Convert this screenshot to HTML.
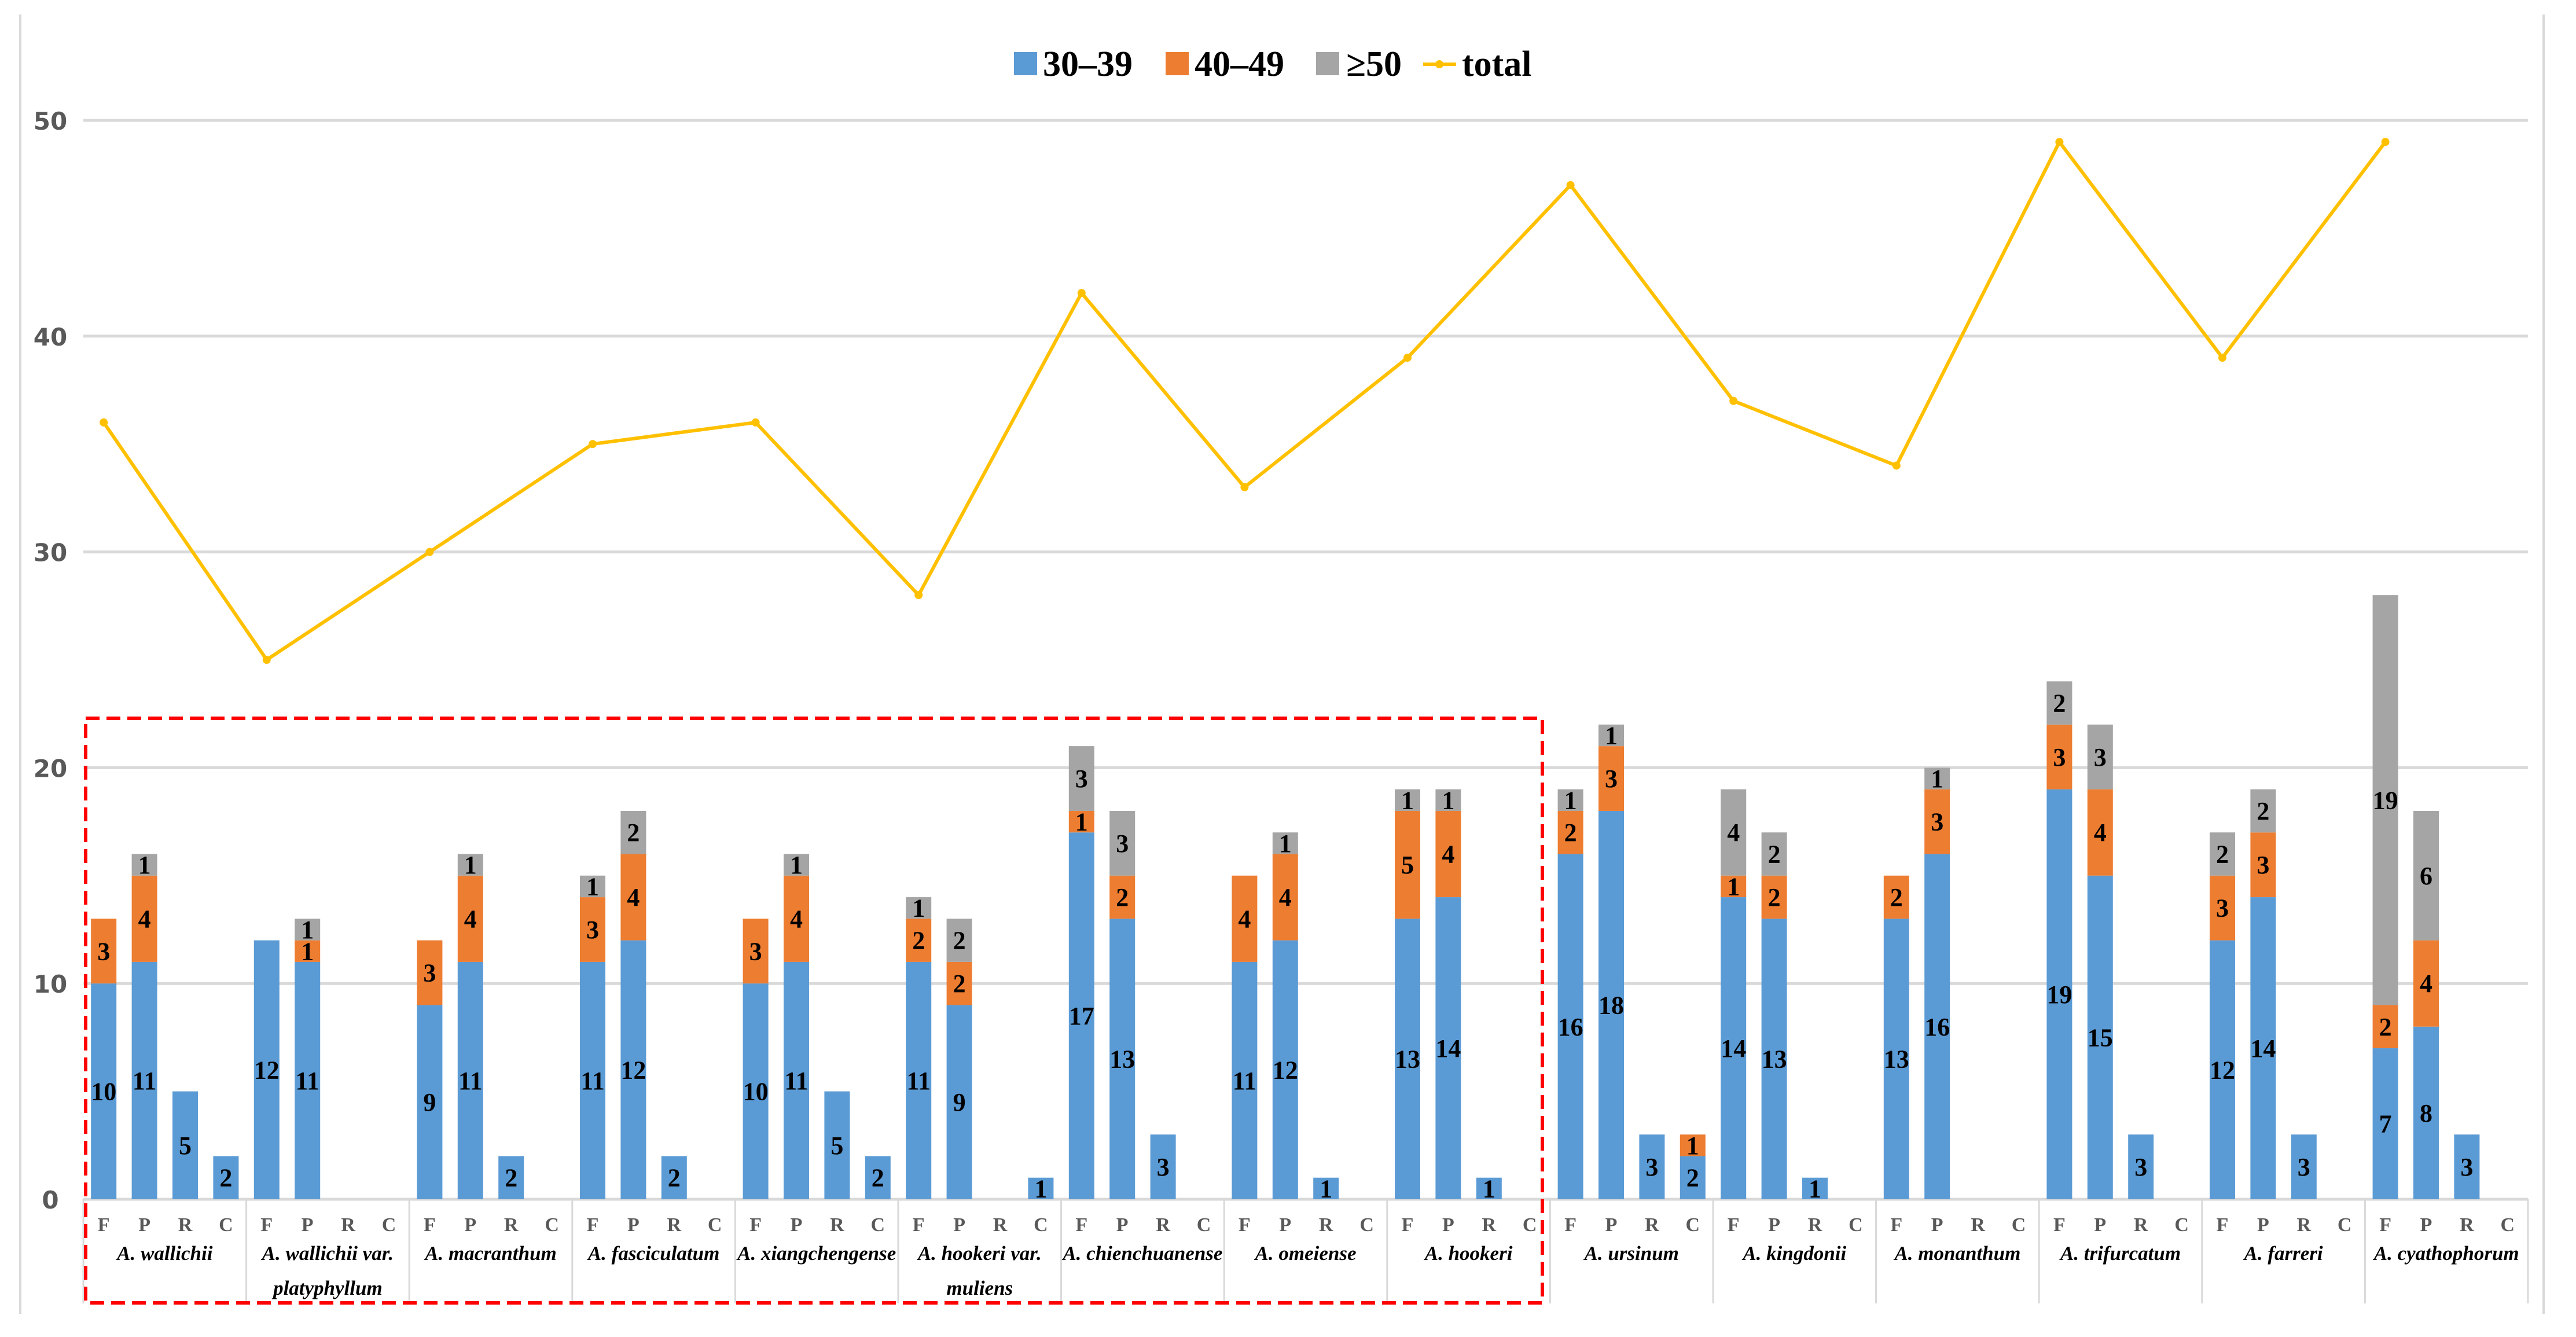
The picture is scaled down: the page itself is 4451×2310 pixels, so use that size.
<!DOCTYPE html>
<html><head><meta charset="utf-8"><style>
html,body{margin:0;padding:0;background:#fff}
svg{display:block}
</style></head><body>
<svg id="chart" width="4451" height="2310" viewBox="0 0 4451 2310" xmlns="http://www.w3.org/2000/svg">
  <rect x="0" y="0" width="4451" height="2310" fill="#fff"/>
  <line x1="35" y1="25" x2="35" y2="2270" stroke="#d9d9d9" stroke-width="4"/>
  <line x1="4395" y1="25" x2="4395" y2="2270" stroke="#d9d9d9" stroke-width="4"/>
  <g id="grid"></g>
  <g id="yaxis"></g>
  <g id="bars"></g>
  <g id="xaxis"></g>
  <g id="line"></g>
  <rect x="148" y="1241" width="2517" height="1010" fill="none" stroke="#ff0000" stroke-width="6" stroke-dasharray="24,12"/>
  <g font-family="Liberation Serif, serif" font-weight="bold" font-size="62" fill="#000">
    <rect x="1752" y="90" width="40" height="40" fill="#5B9BD5"/>
    <text x="1802" y="131">30–39</text>
    <rect x="2014" y="90" width="40" height="40" fill="#ED7D31"/>
    <text x="2064" y="131">40–49</text>
    <rect x="2274" y="90" width="40" height="40" fill="#A5A5A5"/>
    <text x="2326" y="131">≥50</text>
    <line x1="2459" y1="111" x2="2516" y2="111" stroke="#FFC000" stroke-width="6"/>
    <circle cx="2487" cy="111" r="7" fill="#FFC000"/>
    <text x="2526" y="131">total</text>
  </g>
</svg>
<script>
const species = ["A. wallichii","A. wallichii var.|platyphyllum","A. macranthum","A. fasciculatum","A. xiangchengense","A. hookeri var.|muliens","A. chienchuanense","A. omeiense","A. hookeri","A. ursinum","A. kingdonii","A. monanthum","A. trifurcatum","A. farreri","A. cyathophorum"];
const parts = ["F","P","R","C"];
// per group: [F,P,R,C]
const s3039 = [[10,11,5,2],[12,11,0,0],[9,11,2,0],[11,12,2,0],[10,11,5,2],[11,9,0,1],[17,13,3,0],[11,12,1,0],[13,14,1,0],[16,18,3,2],[14,13,1,0],[13,16,0,0],[19,15,3,0],[12,14,3,0],[7,8,3,0]];
const s4049 = [[3,4,0,0],[0,1,0,0],[3,4,0,0],[3,4,0,0],[3,4,0,0],[2,2,0,0],[1,2,0,0],[4,4,0,0],[5,4,0,0],[2,3,0,1],[1,2,0,0],[2,3,0,0],[3,4,0,0],[3,3,0,0],[2,4,0,0]];
const s50 = [[0,1,0,0],[0,1,0,0],[0,1,0,0],[1,2,0,0],[0,1,0,0],[1,2,0,0],[3,3,0,0],[0,1,0,0],[1,1,0,0],[1,1,0,0],[4,2,0,0],[0,1,0,0],[2,3,0,0],[2,2,0,0],[19,6,0,0]];
const totals = [36,25,30,35,36,28,42,33,39,47,37,34,49,39,49];
const yTicks = [0,10,20,30,40,50];

const NS="http://www.w3.org/2000/svg";
const X0=144, X1=4368, Y0=2072, PER=(2072-208)/50;
const GW=(X1-X0)/species.length, SW=GW/4, BW=44;
const y=v=>Y0-v*PER;
const xc=(g,p)=>X0+g*GW+SW*(p+0.5);
function mk(tag,attrs,parent,txt){const e=document.createElementNS(NS,tag);for(const k in attrs)e.setAttribute(k,attrs[k]);if(txt!==undefined)e.textContent=txt;parent.appendChild(e);return e;}
const grid=document.getElementById('grid'),yax=document.getElementById('yaxis'),bars=document.getElementById('bars'),xax=document.getElementById('xaxis'),ln=document.getElementById('line');
yTicks.forEach(t=>{
  const l=mk('line',{x1:X0,x2:X1,y1:y(t),y2:y(t),stroke:'#d9d9d9','stroke-width':5},grid);
  
  
  const tx=mk('text',{x:87,y:y(t)+16,'text-anchor':'middle','font-family':'DejaVu Sans, sans-serif','font-weight':'bold','font-size':42,fill:'#595959'},yax,String(t));
  
  
});
const series=[[s3039,'#5B9BD5','30-39'],[s4049,'#ED7D31','40-49'],[s50,'#A5A5A5','50plus']];
species.forEach((sp,g)=>{
  parts.forEach((p,pi)=>{
    let base=0;
    series.forEach(([arr,col,nm])=>{
      const v=arr[g][pi];
      if(v>0){
        const r=mk('rect',{x:xc(g,pi)-BW/2,y:y(base+v),width:BW,height:v*PER,fill:col},bars);
        
        
        const t=mk('text',{x:xc(g,pi),y:y(base+v/2)+15,'text-anchor':'middle','font-family':'Liberation Serif, serif','font-weight':'bold','font-size':44,fill:'#000'},bars,String(v));
        
        
      }
      base+=v;
    });
    const pl=mk('text',{x:xc(g,pi),y:2127,'text-anchor':'middle','font-family':'Liberation Serif, serif','font-weight':'bold','font-size':34,fill:'#595959'},xax,p);
    
    
  });
  const lines=sp.split('|');
  lines.forEach((s,i)=>{
    const t=mk('text',{x:X0+g*GW+GW/2,y:2177+i*60,'text-anchor':'middle','font-family':'Liberation Serif, serif','font-weight':'bold','font-style':'italic','font-size':35,fill:'#000'},xax,s);
    
    
  });
  const sep=mk('line',{x1:X0+g*GW,x2:X0+g*GW,y1:Y0,y2:2252,stroke:'#d9d9d9','stroke-width':3},xax);
  
  
});
const lastSep=mk('line',{x1:X1,x2:X1,y1:Y0,y2:2252,stroke:'#d9d9d9','stroke-width':3},xax);


const pts=totals.map((v,g)=>xc(g,0)+','+y(v)).join(' ');
const pl=mk('polyline',{points:pts,fill:'none',stroke:'#FFC000','stroke-width':6,'stroke-linejoin':'round'},ln);


totals.forEach((v,g)=>{
  const c=mk('circle',{cx:xc(g,0),cy:y(v),r:7,fill:'#FFC000'},ln);
  
  
});
</script>
</body></html>
